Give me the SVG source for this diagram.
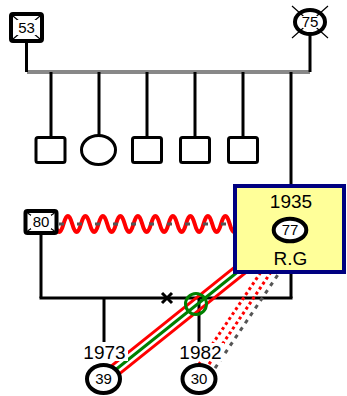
<svg xmlns="http://www.w3.org/2000/svg" width="347" height="396" viewBox="0 0 347 396">
<style>
.ln{stroke:#000;stroke-width:3;fill:none}
.sh{fill:#fff;stroke:#000;stroke-width:3}
.nd{fill:#fff;stroke:#000;stroke-width:4}
.tk{stroke:#000;stroke-width:1.2}
.num{font-family:"Liberation Sans",Arial,sans-serif;font-size:15px;text-anchor:middle;fill:#000}
.lbl{font-family:"Liberation Sans",Arial,sans-serif;font-size:19px;text-anchor:middle;fill:#000}
.red{stroke:#f00;stroke-width:3;fill:none}
.grn{stroke:#008000;stroke-width:3;fill:none}
.rdot{stroke:#f00;stroke-width:3;stroke-dasharray:3 3;fill:none}
.gdash{stroke:#555;stroke-width:3;stroke-dasharray:4 5;fill:none}
</style>
<g id="connectors">
  <line x1="27" y1="72" x2="310" y2="72" stroke="#888" stroke-width="4"/>
  <line class="ln" x1="26.5" y1="42" x2="26.5" y2="72"/>
  <line class="ln" x1="310" y1="33" x2="310" y2="72"/>
  <line class="ln" x1="51" y1="72" x2="51" y2="138"/>
  <line class="ln" x1="99" y1="72" x2="99" y2="136"/>
  <line class="ln" x1="147" y1="72" x2="147" y2="138"/>
  <line class="ln" x1="195" y1="72" x2="195" y2="138"/>
  <line class="ln" x1="243" y1="72" x2="243" y2="138"/>
  <line class="ln" x1="291" y1="72" x2="291" y2="298"/>
  <line class="ln" x1="41" y1="233" x2="41" y2="298"/>
  <line class="ln" x1="39.5" y1="298" x2="292.5" y2="298"/>
  <line class="ln" x1="104" y1="298" x2="104" y2="342"/>
  <line class="ln" x1="199" y1="298" x2="199" y2="342"/>
  <path d="M46,224 q4.375,-16 8.75,0 t8.75,0 t8.75,0 t8.75,0 t8.75,0 t8.75,0 t8.75,0 t8.75,0 t8.75,0 t8.75,0 t8.75,0 t8.75,0 t8.75,0 t8.75,0 t8.75,0 t8.75,0 t8.75,0 t8.75,0 t8.75,0 t8.75,0 t8.75,0 t8.75,0 t8.75,0" stroke="#f00" stroke-width="4" fill="none"/>
  <line x1="59" y1="224" x2="233" y2="224" stroke="#555" stroke-width="3" stroke-dasharray="5 13"/>
  <line class="red" x1="100.5" y1="374.7" x2="286.5" y2="225.7"/>
  <line class="grn" x1="104" y1="379" x2="290" y2="230"/>
  <line class="red" x1="107.5" y1="383.3" x2="293.5" y2="234.3"/>
  <line class="rdot" x1="192" y1="374.5" x2="293" y2="224.5"/>
  <line class="rdot" x1="199" y1="379" x2="300" y2="229"/>
  <line class="gdash" x1="205" y1="383" x2="306" y2="233"/>
  <circle cx="196" cy="304" r="10.5" stroke="#008000" stroke-width="3" fill="none"/>
  <path d="M162,293 L172,303 M172,293 L162,303" stroke="#000" stroke-width="3"/>
</g>
<g id="n53">
  <rect class="nd" x="11" y="14" width="31" height="27" rx="2"/>
  <path class="tk" d="M13,16 L40,39 M40,16 L13,39"/>
  <rect x="17" y="20" width="19" height="15" fill="#fff"/>
  <text class="num" x="26.5" y="33">53</text>
</g>
<g id="n75">
  <ellipse cx="310" cy="22" rx="15" ry="12" fill="#fff"/>
  <path class="tk" d="M292,6 L328,38 M328,6 L292,38"/>
  <ellipse cx="310" cy="22" rx="10.5" ry="8" fill="#fff"/>
  <ellipse cx="310" cy="22" rx="15" ry="12" fill="none" stroke="#000" stroke-width="4"/>
  <text class="num" x="310" y="27.3">75</text>
</g>
<g id="c1"><rect class="sh" x="36" y="137.5" width="29" height="25" rx="2"/></g>
<g id="c2"><ellipse class="sh" cx="98.5" cy="150" rx="17" ry="14.5"/></g>
<g id="c3"><rect class="sh" x="132.5" y="137.5" width="29" height="25" rx="2"/></g>
<g id="c4"><rect class="sh" x="180.5" y="137.5" width="29" height="25" rx="2"/></g>
<g id="c5"><rect class="sh" x="228.5" y="137.5" width="29" height="25" rx="2"/></g>
<g id="n80">
  <rect class="nd" x="25.5" y="211" width="31" height="22" rx="2"/>
  <path class="tk" d="M27.5,213 L54.5,231 M54.5,213 L27.5,231"/>
  <rect x="31" y="215" width="20" height="14" fill="#fff"/>
  <text class="num" x="41" y="227.3">80</text>
</g>
<g id="n77">
  <rect x="235" y="186" width="109" height="86" fill="#ffff99" stroke="#000080" stroke-width="4"/>
  <text class="lbl" x="291" y="208">1935</text>
  <ellipse cx="290" cy="230" rx="16.3" ry="11.3" fill="#fff" stroke="#000" stroke-width="4"/>
  <text class="num" x="290" y="235.3">77</text>
  <text class="lbl" x="290.5" y="265">R.G</text>
</g>
<g id="n39">
  <rect x="81" y="343" width="47" height="18" fill="#fff"/>
  <text class="lbl" x="104.5" y="359">1973</text>
  <ellipse class="nd" cx="103.5" cy="379" rx="16.5" ry="14"/>
  <text class="num" x="103.5" y="384.3">39</text>
</g>
<g id="n30">
  <rect x="177" y="343" width="47" height="18" fill="#fff"/>
  <text class="lbl" x="200.5" y="359">1982</text>
  <ellipse class="nd" cx="199" cy="379" rx="16.5" ry="14"/>
  <text class="num" x="199" y="384.3">30</text>
</g>
</svg>
